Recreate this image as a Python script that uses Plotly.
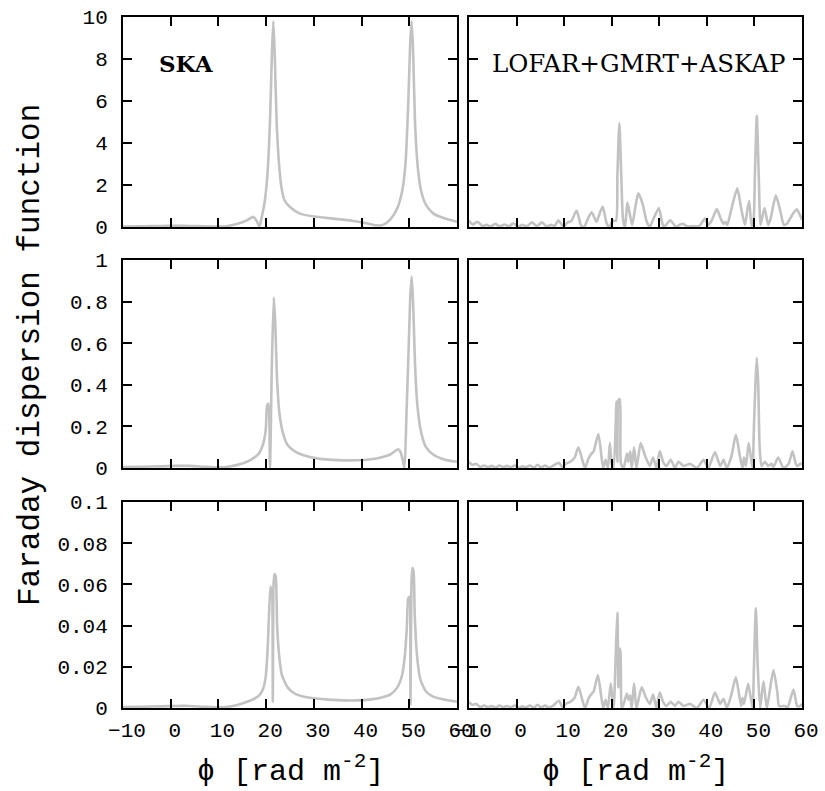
import plotly.graph_objects as go

# ---------------- data ----------------
# Row 1, SKA
ska1_phi = [-10, -6, -2, 1, 4, 7, 10, 12, 14, 16, 17.3, 18.0, 18.6, 19.1, 19.7, 20.3,
            20.8, 21.2, 21.5, 21.8, 22.2, 22.7, 23.2, 23.8, 25.0, 27.0, 30.0, 34.0, 38.0,
            41.0, 43.0, 44.5, 46.0, 47.5, 48.5, 49.2, 49.8, 50.2, 50.5, 50.8, 51.2, 51.8,
            52.5, 53.5, 55.0, 57.5, 60.0]
ska1_F = [0.02, 0.03, 0.05, 0.06, 0.05, 0.03, 0.02, 0.05, 0.15, 0.32, 0.48, 0.3, 0.03,
          0.5, 1.2, 2.6, 5.0, 8.2, 9.8, 8.2, 5.0, 3.0, 1.9, 1.3, 0.95, 0.65, 0.5, 0.4, 0.3,
          0.18, 0.08, 0.1, 0.35, 0.9, 1.7, 3.0, 6.0, 8.8, 9.8, 8.4, 5.0, 2.8, 1.7, 1.05,
          0.65, 0.4, 0.25]

# Row 1, LOFAR+GMRT+ASKAP
lga1_phi = [-10, -9.2, -8.2, -7.2, -6.3, -5.4, -4.5, -3.5, -2.5, -1.6, -0.7, 0.3, 1.2, 2.2,
            3.2, 4.3, 5.3, 6.3, 7.3, 8.0, 8.8, 9.8, 10.7, 11.5, 12.6, 13.6, 14.2, 15.0, 15.8,
            16.8, 17.4, 18.1, 18.9, 19.4, 20.3, 20.9, 21.2, 21.6, 22.0, 22.4, 22.8, 23.3,
            23.9, 24.3, 25.0, 25.6, 26.5, 27.3, 28.0, 28.6, 29.9, 30.6, 31.0, 32.3, 33.5,
            34.2, 35.0, 35.9, 37.0, 38.4, 39.6, 40.3, 41.0, 42.1, 42.9, 43.5, 43.9, 44.3,
            45.0, 46.4, 47.2, 48.0, 48.5, 48.9, 49.4, 49.8, 50.1, 50.5, 50.9, 51.3, 52.1,
            52.9, 53.4, 54.5, 55.4, 56.2, 56.8, 58.0, 58.9, 59.5, 60]
lga1_F = [0.3, 0.12, 0.25, 0.05, 0.1, 0.03, 0.15, 0.03, 0.12, 0.03, 0.18, 0.03, 0.1, 0.04,
          0.22, 0.04, 0.22, 0.03, 0.1, 0.05, 0.32, 0.03, 0.22, 0.28, 0.78, 0.05, 0.0, 0.4,
          0.7, 0.25, 0.6, 0.97, 0.2, 0.0, 0.3, 0.3, 2.5, 4.95, 2.5, 0.3, 0.0, 1.16, 0.5,
          0.1, 1.0, 1.6, 1.1, 0.3, 0.0, 0.3, 0.9, 0.2, 0.0, 0.32, 0.0, 0.1, 0.15, 0.03,
          0.04, 0.05, 0.4, 0.1, 0.3, 0.85, 0.4, 0.15, 0.25, 0.1, 0.7, 1.84, 0.9, 0.1, 0.8,
          1.24, 0.05, 0.3, 2.5, 5.3, 2.5, 0.1, 0.9, 0.1, 0.4, 1.5, 0.8, 0.1, 0.15, 0.6,
          0.84, 0.6, 0.35]

# Row 2, SKA
ska2_phi = [-10, -6, -2, 1, 4, 7, 10, 12, 14, 16, 17.5, 18.5, 19.3, 19.9, 20.2, 20.5, 20.8,
            21.2, 21.6, 21.9, 22.3, 22.8, 23.5, 24.5, 26, 28, 31, 35, 39, 42, 44, 46, 47.7,
            48.2, 48.7, 49.0, 49.4, 49.9, 50.2, 50.5, 50.8, 51.2, 51.7, 52.5, 53.5, 55,
            57.5, 60]
ska2_F = [0.005, 0.006, 0.008, 0.01, 0.01, 0.006, 0.003, 0.006, 0.015, 0.03, 0.05, 0.07,
          0.11, 0.18, 0.30, 0.31, 0.0, 0.5, 0.82, 0.7, 0.42, 0.26, 0.17, 0.11, 0.08, 0.06,
          0.045, 0.038, 0.037, 0.042, 0.05, 0.065, 0.09, 0.075, 0.03, 0.0, 0.25, 0.6, 0.82,
          0.92, 0.8, 0.5, 0.3, 0.17, 0.1, 0.065, 0.04, 0.03]

# Row 2, LOFAR+GMRT+ASKAP
lga2_phi = [-10, -9.3, -8.5, -7.6, -6.8, -6.0, -5.2, -4.4, -3.6, -2.8,
            -2.0, -1.2, -0.4, 0.4, 1.2, 2.0, 2.8, 3.6, 4.4, 5.2,
            6.0, 6.8, 7.6, 8.9, 9.7, 10.3, 11.3, 12.2, 13.0, 13.8,
            14.4, 15.2, 15.8, 16.2, 17.2, 18.2, 18.7, 19.2, 19.6, 20.0,
            20.4, 21.0, 21.2, 21.45, 21.7, 21.95, 22.5, 23.2, 23.5, 23.9,
            24.2, 24.7, 25.2, 26.1, 27.0, 28.0, 28.7, 29.4, 30.1, 30.8,
            31.5, 32.4, 33.3, 34.0, 35.1, 36.5, 37.9, 39.3, 40.3, 41.7,
            42.8, 43.5, 44.2, 45.2, 46.1, 47.0, 47.5, 47.8, 48.2, 48.8,
            49.6, 49.9, 50.2, 50.5, 50.8, 51.1, 51.5, 52.2, 52.9, 53.6,
            54.0, 55.0, 56.1, 57.2, 58.0, 58.9, 59.7, 60]
lga2_F = [0.03, 0.015, 0.02, 0.005, 0.012, 0.004, 0.01, 0.002, 0.012, 0.004,
          0.01, 0.003, 0.012, 0.002, 0.008, 0.003, 0.012, 0.002, 0.015, 0.003,
          0.012, 0.002, 0.01, 0.025, 0.002, 0.02, 0.03, 0.05, 0.1, 0.04,
          0.0, 0.05, 0.07, 0.08, 0.163, 0.0, 0.04, 0.0, 0.12, 0.02,
          0.0, 0.32, 0.03, 0.33, 0.33, 0.02, 0.0, 0.07, 0.03, 0.08,
          0.0, 0.1, 0.0, 0.12, 0.06, 0.01, 0.05, 0.0, 0.08, 0.03,
          0.01, 0.04, 0.0, 0.03, 0.01, 0.02, 0.0, 0.04, 0.0, 0.076,
          0.01, 0.04, 0.0, 0.06, 0.16, 0.05, 0.0, 0.05, 0.01, 0.12,
          0.0, 0.2, 0.4, 0.53, 0.4, 0.1, 0.01, 0.03, 0.01, 0.02,
          0.005, 0.05, 0.0, 0.02, 0.08, 0.01, 0.02, 0.02]

# Row 3, SKA
ska3_phi = [-10, -6, -2, 1, 4, 7, 10, 12, 14, 16, 17.5, 18.5, 19.3, 19.9, 20.3, 20.6, 20.9,
            21.1, 21.25, 21.4, 21.55, 21.75, 22.0, 22.3, 22.7, 23.3, 24.5, 26, 28, 31, 35,
            39, 42, 44, 46, 47.5, 48.5, 49.1, 49.5, 49.75, 50.0, 50.25, 50.45, 50.65, 50.9,
            51.15, 51.6, 52.3, 53.5, 55, 57.5, 60]
ska3_F = [0.0005, 0.0006, 0.0008, 0.001, 0.001, 0.0006, 0.0003, 0.0006, 0.0015, 0.003,
          0.0045, 0.006, 0.009, 0.015, 0.028, 0.045, 0.059, 0.056, 0.058, 0.003, 0.06,
          0.065, 0.064, 0.04, 0.026, 0.016, 0.01, 0.007, 0.0055, 0.0045, 0.0038, 0.0037,
          0.0042, 0.005, 0.0065, 0.01, 0.016, 0.026, 0.04, 0.053, 0.054, 0.002, 0.06,
          0.068, 0.066, 0.045, 0.026, 0.014, 0.008, 0.0055, 0.004, 0.003]

# Row 3, LOFAR+GMRT+ASKAP
lga3_phi = [-10, -9.3, -8.5, -7.6, -6.8, -6.0, -5.2, -4.4, -3.6, -2.8,
            -2.0, -1.2, -0.4, 0.4, 1.2, 2.0, 2.8, 3.6, 4.4, 5.2,
            6.0, 6.8, 7.6, 8.9, 9.7, 10.3, 11.3, 12.2, 13.0, 13.8,
            14.4, 15.2, 15.8, 16.2, 17.1, 18.2, 18.7, 19.2, 19.8, 20.4,
            20.9, 21.2, 21.4, 21.55, 21.8, 22.1, 22.5, 23.2, 23.5, 23.9,
            24.2, 24.7, 25.2, 26.3, 27.2, 28.0, 28.7, 29.4, 30.1, 30.8,
            31.5, 32.4, 33.3, 34.0, 35.1, 36.5, 37.9, 39.3, 40.5, 41.7,
            42.8, 43.5, 44.2, 45.2, 46.1, 47.2, 47.5, 47.8, 48.7, 49.6,
            49.9, 50.3, 50.7, 51.2, 51.9, 52.6, 53.2, 54.0, 54.8, 55.2,
            56.3, 57.0, 58.2, 59.0, 59.6, 60]
lga3_F = [0.003, 0.0015, 0.002, 0.0005, 0.0012, 0.0004, 0.001, 0.0002, 0.0012, 0.0004,
          0.001, 0.0003, 0.0012, 0.0002, 0.0008, 0.0003, 0.0012, 0.0002, 0.0015, 0.0003,
          0.0012, 0.0002, 0.001, 0.0035, 0.0002, 0.002, 0.003, 0.005, 0.0103, 0.004,
          0.0, 0.005, 0.007, 0.008, 0.016, 0.0, 0.004, 0.0, 0.012, 0.0,
          0.03, 0.0463, 0.01, 0.029, 0.028, 0.0, 0.002, 0.007, 0.004, 0.006,
          0.0, 0.012, 0.0, 0.01, 0.005, 0.002, 0.0065, 0.0, 0.0075, 0.003,
          0.001, 0.003, 0.001, 0.003, 0.001, 0.002, 0.0, 0.004, 0.0, 0.0075,
          0.002, 0.0045, 0.0, 0.007, 0.0149, 0.001, 0.005, 0.002, 0.0117, 0.0,
          0.02, 0.0484, 0.02, 0.0, 0.013, 0.0, 0.008, 0.0184, 0.008, 0.001,
          0.001, 0.0005, 0.009, 0.001, 0.001, 0.002]

y_ranges = [[0, 10], [0, 1], [0, 0.1]]
y_dticks = [2, 0.2, 0.02]
x_range = [-10, 60]
panel_labels = ["SKA", "LOFAR+GMRT+ASKAP"]
y_title = "Faraday dispersion function"
x_title = "\u03d5 [rad m<sup>-2</sup>]"

# ---------------- layout helpers ----------------
W, H = 825, 791
left_px = [(123, 457), (469, 802)]
rows_px = [(17, 227), (260, 468), (502, 708)]

def xdom(c):
    return [left_px[c][0] / W, left_px[c][1] / W]

def ydom(r):
    return [(H - rows_px[r][1]) / H, (H - rows_px[r][0]) / H]

mono = "Liberation Mono, DejaVu Sans Mono, monospace"
line_col = "#c2c2c2"

series = [
    (ska1_phi, ska1_F), (lga1_phi, lga1_F),
    (ska2_phi, ska2_F), (lga2_phi, lga2_F),
    (ska3_phi, ska3_F), (lga3_phi, lga3_F),
]

fig = go.Figure()
layout = dict(
    width=W, height=H, margin=dict(l=0, r=0, t=0, b=0, pad=0),
    paper_bgcolor="white", plot_bgcolor="white", showlegend=False,
)

common = dict(showline=True, linecolor="black", linewidth=2, mirror="allticks",
              ticks="inside", ticklen=9, tickwidth=1.5, tickcolor="black",
              showgrid=False, zeroline=False, automargin=False,
              tickfont=dict(family=mono, size=21, color="black"))

for i, (px, py) in enumerate(series):
    r, c = divmod(i, 2)
    n = i + 1
    xa = "x" if n == 1 else f"x{n}"
    ya = "y" if n == 1 else f"y{n}"
    fig.add_trace(go.Scatter(x=px, y=py, mode="lines", xaxis=xa, yaxis=ya,
                             line=dict(color=line_col, width=2.6, shape="spline",
                                       smoothing=0.6),
                             hoverinfo="skip"))
    xkey = "xaxis" if n == 1 else f"xaxis{n}"
    ykey = "yaxis" if n == 1 else f"yaxis{n}"
    layout[xkey] = dict(common, domain=xdom(c), range=x_range, tick0=0, dtick=10,
                        anchor=ya, showticklabels=(r == 2), ticklabelstandoff=2,
                        ticklabelshift=4)
    layout[ykey] = dict(common, domain=ydom(r), range=y_ranges[r], tick0=0,
                        dtick=y_dticks[r], anchor=xa, showticklabels=(c == 0),
                        ticklabelstandoff=9)

fig.update_layout(**layout)

ann = []
ann.append(dict(text="<b>" + panel_labels[0] + "</b>", x=186 / W, y=(H - 63) / H,
                xref="paper", yref="paper", showarrow=False, xanchor="center",
                yanchor="middle", font=dict(family="DejaVu Serif", size=23, color="black")))
ann.append(dict(text=panel_labels[1], x=638 / W, y=(H - 63) / H,
                xref="paper", yref="paper", showarrow=False, xanchor="center",
                yanchor="middle", font=dict(family="DejaVu Serif", size=24.5, color="black")))
ann.append(dict(text=y_title, x=30 / W, y=(H - 355) / H, xref="paper", yref="paper",
                showarrow=False, textangle=-90, xanchor="center", yanchor="middle",
                font=dict(family=mono, size=31, color="black")))
for c in range(2):
    cx = (left_px[c][0] + left_px[c][1]) / 2 / W
    ann.append(dict(text=x_title, x=cx, y=(H - 769) / H, xref="paper", yref="paper",
                    showarrow=False, xanchor="center", yanchor="middle",
                    font=dict(family=mono, size=30, color="black")))
fig.update_layout(annotations=ann)

fig.write_html("out.html")
